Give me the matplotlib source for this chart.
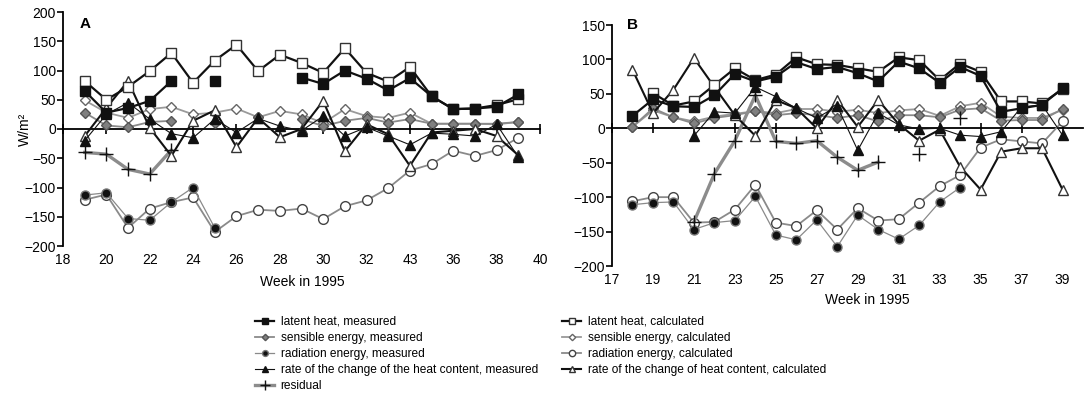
import numpy as np
import matplotlib
matplotlib.use("Agg")
import matplotlib.pyplot as plt

plt.rcParams['font.family'] = ['Liberation Sans', 'DejaVu Sans']

nan = np.nan

# ---------------- Panel A data ----------------
weeks_A = list(range(19, 40))
latent_meas_A = [65, 28, 36, 48, 82, nan, 82, nan, nan, nan, 88, 77, 100, 86, 66, 87, 56, 34, 35, 38, 59]
latent_calc_A = [82, 50, 72, 99, 130, 79, 117, 144, 99, 127, 113, 96, 138, 96, 81, 106, 56, 34, 35, 41, 51]
sens_meas_A = [28, 6, 3, 12, 14, nan, 11, nan, 20, nan, 17, 5, 14, 19, 11, 17, 9, 9, 9, 9, 12]
sens_calc_A = [49, 28, 19, 34, 38, 25, 28, 35, 20, 31, 25, 10, 34, 22, 19, 28, 9, 9, 9, 8, 12]
rad_meas_A = [-113, -109, -153, -156, -125, -100, -169, nan, nan, nan, nan, nan, nan, nan, nan, nan, nan, nan, nan, nan, nan]
rad_calc_A = [-121, -112, -169, -136, -125, -117, -176, -149, -138, -140, -136, -154, -132, -122, -101, -71, -60, -37, -46, -36, -15]
rate_meas_A = [-20, 25, 45, 17, -8, -15, 17, -6, 18, 5, -3, 22, -12, 3, -12, -27, -7, -9, -12, 8, -48]
rate_calc_A = [-12, 36, 82, 2, -46, 14, 32, -31, 19, -14, 0, 48, -38, 8, -9, -63, -6, -3, 0, -12, -45]
resid_A = [-40, -43, -69, -77, -36, nan, nan, nan, nan, nan, nan, nan, nan, nan, nan, nan, nan, nan, nan, nan, nan]
xticks_A = [18, 20, 22, 24, 26, 28, 30, 32, 34, 36, 38, 40]
xticklabels_A = ['18', '20', '22', '24', '26', '28', '30', '32', '43', '36', '38', '40']
yticks_A = [200, 150, 100, 50, 0, -50, -100, -150, -200]

# ---------------- Panel B data ----------------
weeks_B = list(range(18, 40))
latent_meas_B = [18, 42, 32, 31, 48, 79, 68, 75, 96, 86, 89, 80, 68, 97, 87, 66, 89, 76, 24, 29, 34, 58]
latent_calc_B = [nan, 51, 33, 39, 63, 87, 70, 78, 103, 93, 92, 87, 82, 103, 99, 70, 94, 82, 39, 39, 36, 57]
sens_meas_B = [2, 29, 16, 7, 15, 19, 25, 19, 22, 19, 15, 19, 10, 19, 19, 16, 27, 29, 11, 12, 12, 28]
sens_calc_B = [2, 26, 16, 10, 17, 21, 25, 22, 28, 28, 24, 27, 22, 26, 28, 18, 32, 37, 17, 15, 15, 27]
rad_meas_B = [-111, -108, -107, -147, -137, -134, -99, -155, -162, -133, -172, -126, -147, -161, -141, -107, -86, nan, nan, nan, nan, nan]
rad_calc_B = [-106, -100, -100, -137, -136, -118, -82, -137, -142, -119, -147, -116, -134, -132, -108, -84, -68, -28, -16, -19, -22, 10]
rate_meas_B = [nan, nan, nan, -11, 24, 22, 60, 46, 29, 15, 32, -32, 22, 5, -1, 0, -10, -12, -5, 31, 34, -10]
rate_calc_B = [85, 22, 56, 102, 60, 19, -11, 41, 29, 0, 41, 2, 41, 6, -18, -2, -56, -89, -34, -29, -29, -89]
resid_B = [nan, nan, nan, -136, -66, -18, 48, -19, -22, -18, -42, -61, -49, nan, -38, nan, 15, nan, nan, nan, nan, nan]
xticks_B = [17, 19, 21, 23, 25, 27, 29, 31, 33, 35, 37, 39]
xticklabels_B = [str(t) for t in xticks_B]
yticks_B = [150, 100, 50, 0, -50, -100, -150, -200]

labels = ['latent heat, measured', 'sensible energy, measured', 'radiation energy, measured',
          'rate of the change of the heat content, measured', 'residual',
          'latent heat, calculated', 'sensible energy, calculated', 'radiation energy, calculated',
          'rate of the change of heat content, calculated']

styles = {
    'latent_meas': dict(marker='s', mfc='#111111', mec='#111111', color='#111111', lw=1.6, ms=7, zorder=6),
    'latent_calc': dict(marker='s', mfc='white', mec='#333333', color='#111111', lw=1.6, ms=7.5, zorder=5),
    'sens_meas': dict(marker='D', mfc='#808080', mec='#555555', color='#8a8a8a', lw=1.3, ms=5, zorder=4),
    'sens_calc': dict(marker='D', mfc='white', mec='#666666', color='#9a9a9a', lw=1.3, ms=5, zorder=3),
    'rad_meas': dict(marker='o', mfc='#111111', mec='#777777', color='#8a8a8a', lw=0.9, ms=6.5, zorder=4),
    'rad_calc': dict(marker='o', mfc='white', mec='#444444', color='#8a8a8a', lw=1.3, ms=7, zorder=3),
    'rate_meas': dict(marker='^', mfc='#111111', mec='#111111', color='#111111', lw=0.8, ms=6.5, zorder=5),
    'rate_calc': dict(marker='^', mfc='white', mec='#333333', color='#111111', lw=1.5, ms=7, zorder=4),
    'resid': dict(marker='+', mfc='#111111', mec='#111111', color='#8c8c8c', lw=2.4, ms=10, mew=1.0, zorder=4),
}

W, H = 1085, 407
fig = plt.figure(figsize=(W / 100, H / 100), dpi=100)

axA = fig.add_axes([63 / W, (H - 246) / H, (540 - 63) / W, 234 / H])
axB = fig.add_axes([612 / W, (H - 266) / H, (1083 - 612) / W, 241 / H])


def draw(ax, weeks, series):
    handles = {}
    for key, vals in series:
        ln, = ax.plot(weeks, vals, **styles[key])
        handles[key] = ln
    return handles


series_A = [('rad_calc', rad_calc_A), ('rad_meas', rad_meas_A), ('sens_calc', sens_calc_A),
            ('sens_meas', sens_meas_A), ('resid', resid_A), ('rate_calc', rate_calc_A),
            ('rate_meas', rate_meas_A), ('latent_calc', latent_calc_A), ('latent_meas', latent_meas_A)]
series_B = [('rad_calc', rad_calc_B), ('rad_meas', rad_meas_B), ('sens_calc', sens_calc_B),
            ('sens_meas', sens_meas_B), ('resid', resid_B), ('rate_calc', rate_calc_B),
            ('rate_meas', rate_meas_B), ('latent_calc', latent_calc_B), ('latent_meas', latent_meas_B)]

hA = draw(axA, weeks_A, series_A)
draw(axB, weeks_B, series_B)


def style_axes(ax, xlim, ylim, xticks, xticklabels, yticks):
    ax.set_xlim(*xlim)
    ax.set_ylim(*ylim)
    for s in ['top', 'right']:
        ax.spines[s].set_visible(False)
    ax.spines['bottom'].set_position(('data', 0))
    ax.spines['bottom'].set_linewidth(1.3)
    ax.spines['bottom'].set_zorder(2)
    ax.spines['left'].set_linewidth(1.3)
    ax.set_xticks(xticks)
    ax.tick_params(axis='x', direction='inout', length=7, width=1.2, labelbottom=False)
    ax.set_yticks(yticks)
    ax.tick_params(axis='y', direction='out', length=4, width=1.2, labelsize=10, pad=1)
    sec = ax.secondary_xaxis(0.0)
    sec.set_xticks(xticks)
    sec.set_xticklabels(xticklabels)
    sec.tick_params(length=0, labelsize=10, pad=5)
    sec.spines['bottom'].set_visible(False)
    return sec


secA = style_axes(axA, (18, 40), (-200, 200), xticks_A, xticklabels_A, yticks_A)
secB = style_axes(axB, (17, 40), (-200, 150), xticks_B, xticklabels_B, yticks_B)

fig.text(302 / W, 1 - 282 / H, 'Week in 1995', fontsize=10, ha='center', va='center')
fig.text(867 / W, 1 - 300 / H, 'Week in 1995', fontsize=10, ha='center', va='center')
fig.text(25 / W, 1 - 129 / H, 'W/m²', fontsize=10, ha='center', va='center', rotation=90)

axA.text(0.034, 0.95, 'A', transform=axA.transAxes, fontsize=11, fontweight='bold', va='center', ha='left')
axB.text(0.032, 1.0, 'B', transform=axB.transAxes, fontsize=11, fontweight='bold', va='center', ha='left')

keys1 = ['latent_meas', 'sens_meas', 'rad_meas', 'rate_meas', 'resid']
keys2 = ['latent_calc', 'sens_calc', 'rad_calc', 'rate_calc']
leg_kw = dict(loc='upper left', frameon=False, borderpad=0, borderaxespad=0, handlelength=1.6,
              handletextpad=0.55, labelspacing=0.33, fontsize=8.6, markerscale=0.65)
fig.legend([hA[k] for k in keys1], labels[:5], bbox_to_anchor=(255 / W, (H - 316) / H), **leg_kw)
fig.legend([hA[k] for k in keys2], labels[5:], bbox_to_anchor=(562 / W, (H - 316) / H), **leg_kw)

fig.savefig('out.png', dpi=100)
